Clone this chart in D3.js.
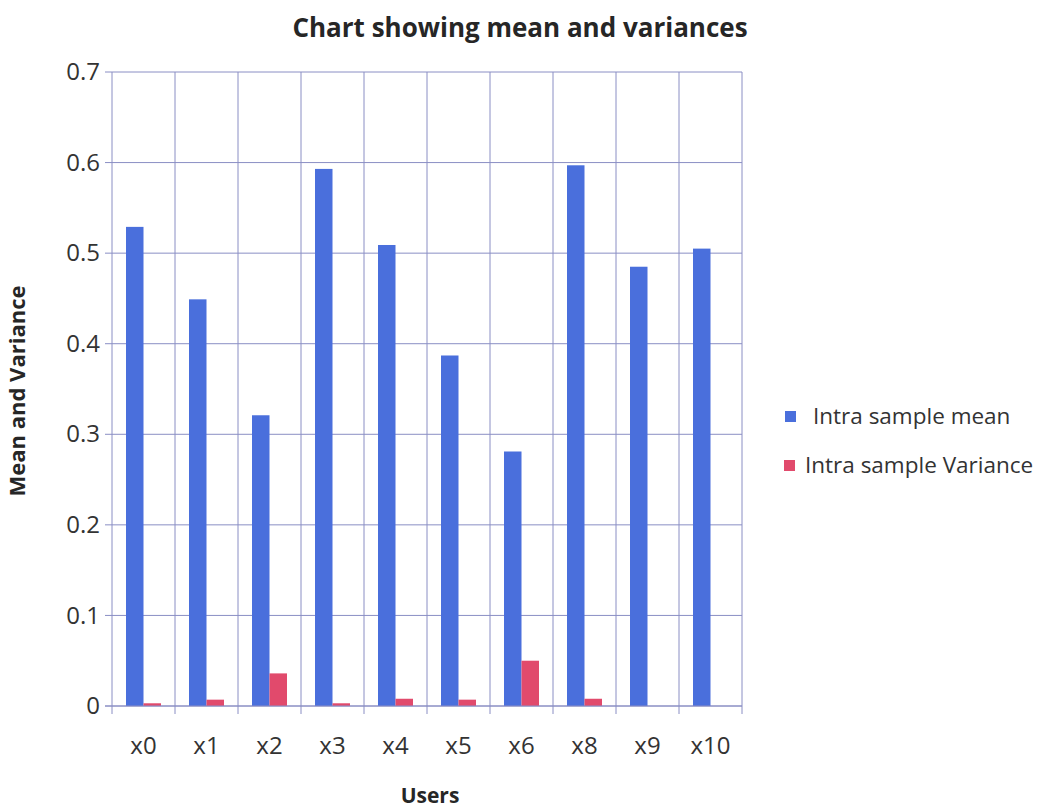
<!DOCTYPE html>
<html>
<head>
<meta charset="utf-8">
<script src="https://cdn.jsdelivr.net/npm/d3@7"></script>
<style>
  body { margin: 0; background: #fff; }
  text { font-family: "Open Sans", "Noto Sans", sans-serif; fill: #262626; }
</style>
</head>
<body>
<div id="chart"></div>
<script>
// Chart data
var users = ["x0", "x1", "x2", "x3", "x4", "x5", "x6", "x8", "x9", "x10"];
var seriesNames = ["Intra sample mean", "Intra sample Variance"];
var meanValues = [0.529, 0.449, 0.321, 0.593, 0.509, 0.387, 0.281, 0.597, 0.485, 0.505];
var varianceValues = [0.003, 0.007, 0.036, 0.003, 0.008, 0.007, 0.05, 0.008, 0, 0];
var yTicks = [0, 0.1, 0.2, 0.3, 0.4, 0.5, 0.6, 0.7];
var colors = ["#4a6fdc", "#e14a6c"];

var width = 1052;
var height = 811;

// Plot box
var plotLeft = 112;
var plotRight = 742;
var plotTop = 72;
var plotBottom = 706;
var gridColor = "#8a8ec4";

var svg = d3.select("#chart")
  .append("svg")
  .attr("width", width)
  .attr("height", height);

var x0 = d3.scaleBand()
  .domain(users)
  .range([plotLeft, plotRight])
  .paddingInner(0);

var x1 = d3.scaleBand()
  .domain(seriesNames)
  .range([0, x0.bandwidth()])
  .paddingInner(0)
  .paddingOuter(0.8);

var y = d3.scaleLinear()
  .domain([0, 0.7])
  .range([plotBottom, plotTop]);

// Horizontal grid lines
svg.append("g")
  .selectAll("line")
  .data(yTicks)
  .enter()
  .append("line")
  .attr("x1", plotLeft - 7)
  .attr("x2", plotRight)
  .attr("y1", function(d) { return y(d); })
  .attr("y2", function(d) { return y(d); })
  .attr("stroke", gridColor)
  .attr("stroke-width", 1);

// Vertical grid lines at category edges
var edges = users.map(function(u) { return x0(u); }).concat([plotRight]);
svg.append("g")
  .selectAll("line")
  .data(edges)
  .enter()
  .append("line")
  .attr("x1", function(d) { return d; })
  .attr("x2", function(d) { return d; })
  .attr("y1", plotTop)
  .attr("y2", plotBottom + 8)
  .attr("stroke", gridColor)
  .attr("stroke-width", 1);

// Y axis labels
var yAxis = d3.axisLeft(y)
  .tickValues(yTicks)
  .tickSize(0)
  .tickPadding(12)
  .tickFormat(function(d) { return d === 0 ? "0" : d3.format(".1f")(d); });

svg.append("g")
  .attr("transform", "translate(" + plotLeft + ",0)")
  .call(yAxis)
  .call(function(g) { g.select(".domain").remove(); })
  .selectAll("text")
  .style("font-size", "24px")
  .style("font-family", "'Open Sans', sans-serif")
  .style("fill", "#333");

// X axis labels
var xAxis = d3.axisBottom(x0).tickSize(0).tickPadding(31);
svg.append("g")
  .attr("transform", "translate(0," + plotBottom + ")")
  .call(xAxis)
  .call(function(g) { g.select(".domain").remove(); })
  .selectAll("text")
  .style("font-size", "24px")
  .style("font-family", "'Open Sans', sans-serif")
  .style("fill", "#333");

// Bars
var rows = users.map(function(u, i) {
  return { user: u, values: [meanValues[i], varianceValues[i]] };
});

var groups = svg.append("g")
  .selectAll("g")
  .data(rows)
  .enter()
  .append("g")
  .attr("transform", function(d) { return "translate(" + x0(d.user) + ",0)"; });

groups.selectAll("rect")
  .data(function(d) {
    return d.values.map(function(v, j) { return { name: seriesNames[j], value: v, idx: j }; });
  })
  .enter()
  .append("rect")
  .attr("x", function(d) { return x1(d.name); })
  .attr("width", x1.bandwidth())
  .attr("y", function(d) { return y(d.value); })
  .attr("height", function(d) { return plotBottom - y(d.value); })
  .attr("fill", function(d) { return colors[d.idx]; });

// Baseline on top of bars
svg.append("line")
  .attr("x1", plotLeft - 7)
  .attr("x2", plotRight)
  .attr("y1", plotBottom)
  .attr("y2", plotBottom)
  .attr("stroke", gridColor);

// Title
svg.append("text")
  .attr("x", 520)
  .attr("y", 37)
  .attr("text-anchor", "middle")
  .style("font-size", "26px")
  .style("font-weight", "bold")
  .text("Chart showing mean and variances");

// Axis titles
svg.append("text")
  .attr("x", (plotLeft + plotRight) / 2 + 3)
  .attr("y", 803)
  .attr("text-anchor", "middle")
  .style("font-size", "21px")
  .style("font-weight", "bold")
  .text("Users");

svg.append("text")
  .attr("transform", "translate(25," + ((plotTop + plotBottom) / 2 + 2) + ")rotate(-90)")
  .attr("text-anchor", "middle")
  .style("font-size", "22px")
  .style("font-weight", "bold")
  .text("Mean and Variance");

// Legend
var legend = svg.append("g")
  .selectAll("g")
  .data(seriesNames)
  .enter()
  .append("g")
  .attr("transform", function(d, i) { return "translate(" + (i === 0 ? 785 : 784) + "," + (411 + i * 49) + ")"; });

legend.append("rect")
  .attr("width", 11)
  .attr("height", 11)
  .attr("fill", function(d, i) { return colors[i]; });

legend.append("text")
  .attr("x", function(d, i) { return i === 0 ? 28 : 21; })
  .attr("y", 13)
  .style("font-size", "22.5px")
  .style("fill", "#333")
  .text(function(d) { return d; });
</script>
</body>
</html>
